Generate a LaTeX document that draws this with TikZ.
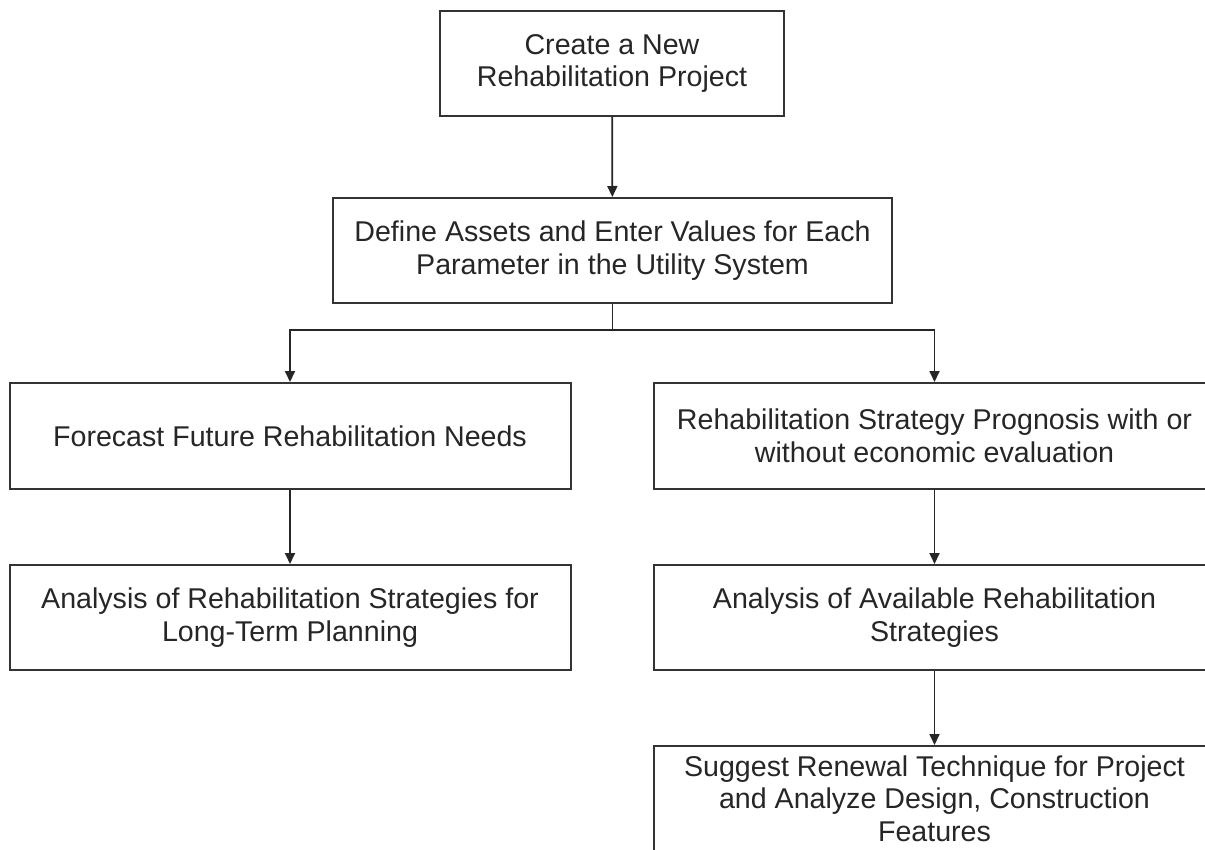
\documentclass[tikz,border=0pt]{standalone}
\usepackage{fontspec}
\setmainfont{Liberation Sans}
\usetikzlibrary{arrows.meta}
\begin{document}
\begin{tikzpicture}[x=1pt,y=-1pt,
  box/.style={draw=black!80, line width=2pt, fill=white,
    minimum width=561pt, minimum height=106pt, inner sep=0pt,
    align=center, text=black!85,
    font=\fontsize{28.6}{32.5}\selectfont},
  wire/.style={draw=black!85, line width=1.8pt},
  link/.style={wire, -{Triangle[width=10pt,length=11pt]}}]
\useasboundingbox (0,0) rectangle (1205,850);
\fill[white] (0,0) rectangle (1205,850);
\clip (0,0) rectangle (1205,850);

% process steps
\node[box, minimum width=344pt, minimum height=105pt] (create) at (612,63.5)
  {Create a New\\Rehabilitation Project};
\node[box, minimum width=559pt, minimum height=105pt] (define) at (612.5,250.5)
  {Define Assets and Enter Values for Each\\Parameter in the Utility System};
\node[box] (forecast) at (290,436)
  {Forecast Future Rehabilitation Needs};
\node[box] (prognosis) at (934.5,436)
  {Rehabilitation Strategy Prognosis with or\\without economic evaluation};
\node[box, minimum height=105pt] (longterm) at (290,617.5)
  {Analysis of Rehabilitation Strategies for\\Long-Term Planning};
\node[box, minimum height=105pt] (available) at (934.5,617.5)
  {Analysis of Available Rehabilitation\\Strategies};
\node[box, minimum height=105pt] (suggest) at (934.5,798.5)
  {Suggest Renewal Technique for Project\\and Analyze Design, Construction\\Features};

% connectors
\coordinate (fork) at (612.5,330);
\draw[link] (create) -- (define);
\draw[wire] (define) -- (fork);
\draw[link] (fork) -| (forecast);
\draw[link] (fork) -| (prognosis);
\draw[link] (forecast) -- (longterm);
\draw[link] (prognosis) -- (available);
\draw[link] (available) -- (suggest);
\end{tikzpicture}
\end{document}
